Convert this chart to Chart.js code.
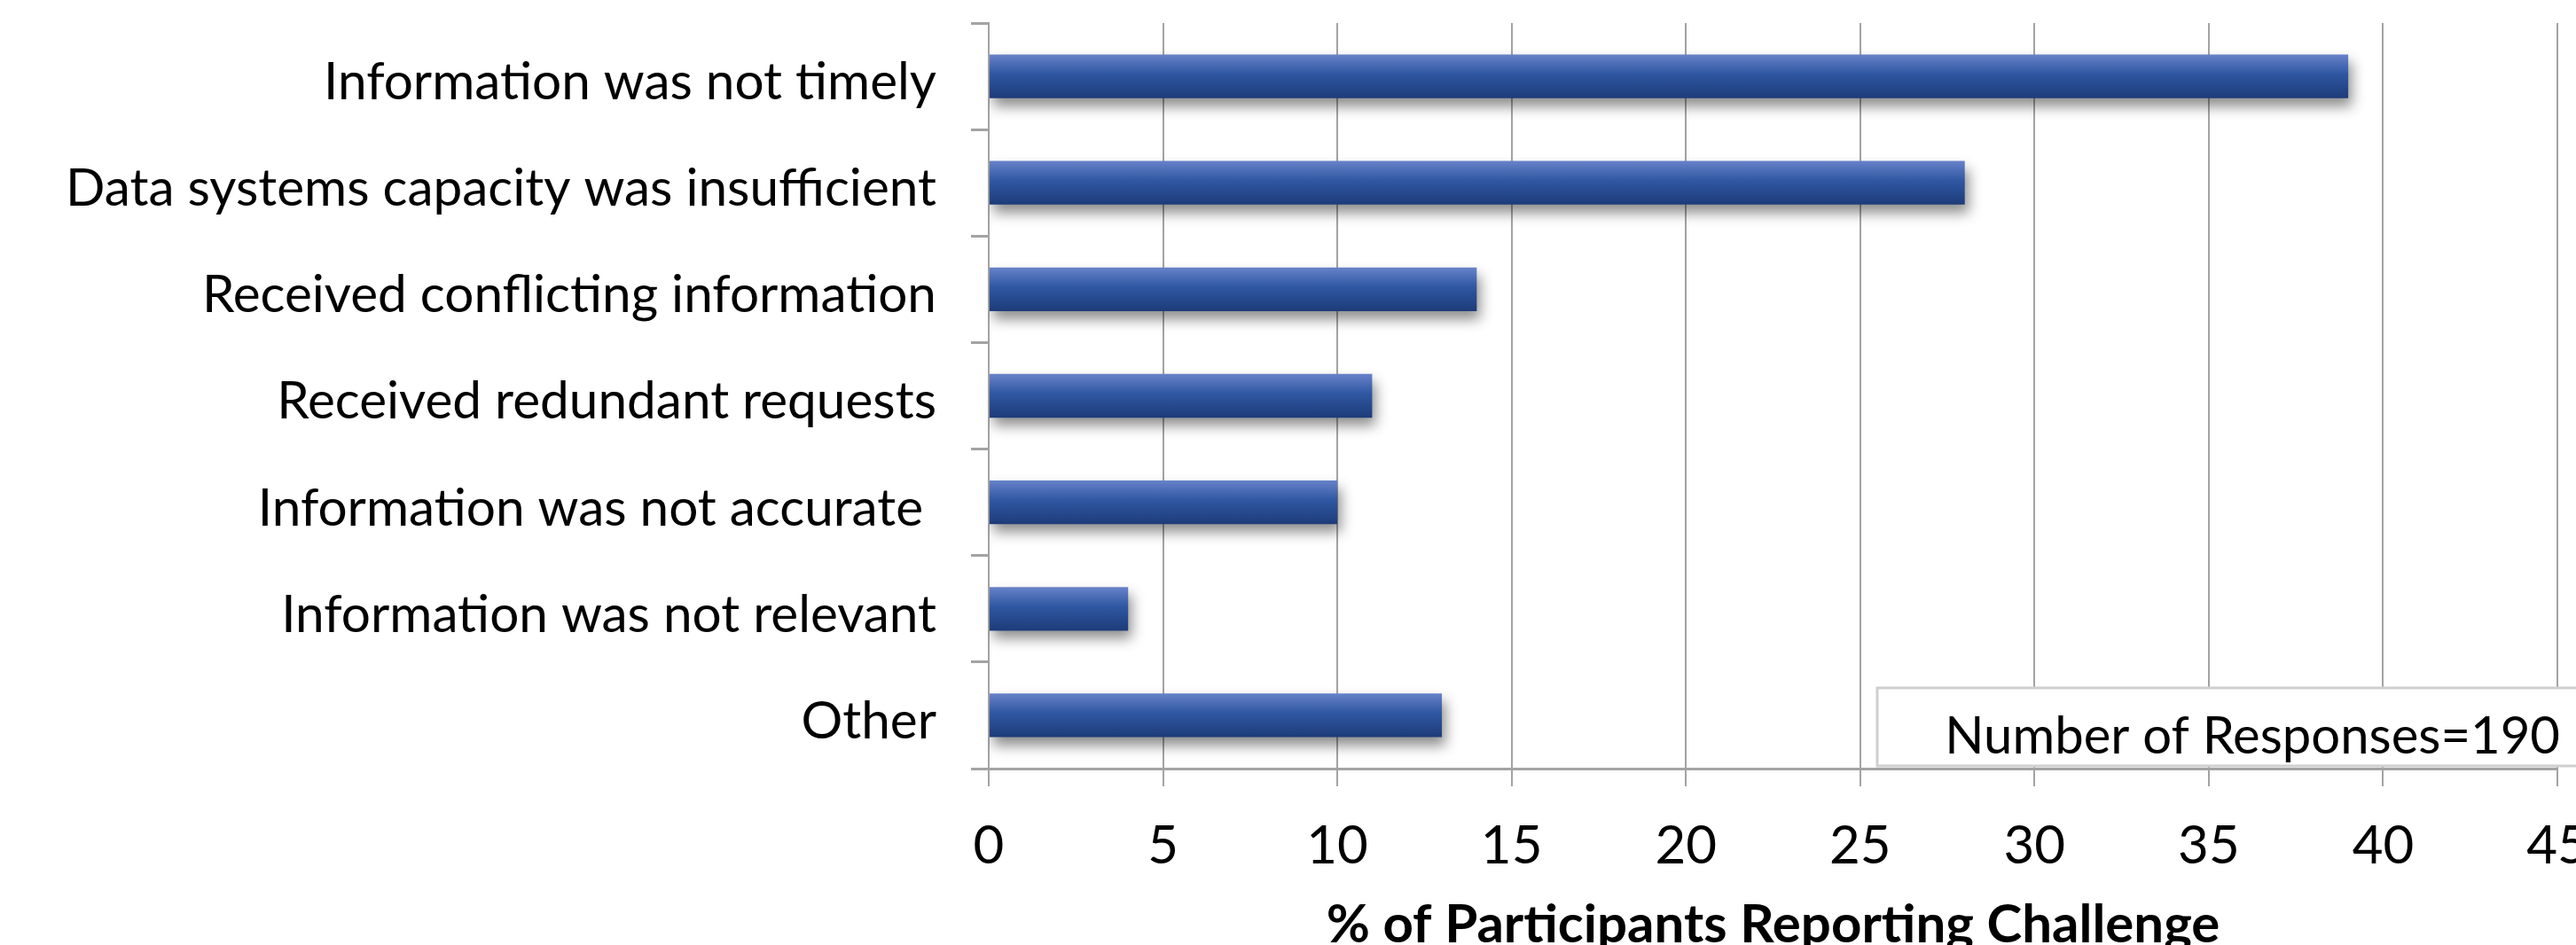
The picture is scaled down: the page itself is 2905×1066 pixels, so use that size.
<!DOCTYPE html>
<html>
<head>
<meta charset="utf-8">
<script src="https://cdn.jsdelivr.net/npm/chart.js@4/dist/chart.umd.min.js"></script>
<style>
  html, body { margin: 0; padding: 0; background: #fff; overflow: hidden; }
  #wrap { width: 2905px; height: 1066px; position: relative; }
</style>
</head>
<body>
<div id="wrap"><canvas id="mainChart"></canvas></div>
<script>
// Dados do grafico
const categorias = [
  'Information was not timely',
  'Data systems capacity was insufficient',
  'Received conflicting information',
  'Received redundant requests',
  'Information was not accurate ',
  'Information was not relevant',
  'Other'
];
const valores = [39, 28, 14, 11, 10, 4, 13];
const xTicks = [0, 5, 10, 15, 20, 25, 30, 35, 40, 45];
const tituloX = '% of Participants Reporting Challenge';
const legenda = 'Number of Responses=190';

const fonte = 'Lato';
const cinza = '#a3a3a3';
const espessura = 0.41; // fracao da categoria ocupada pela barra

// Gradiente azul de cada barra (de cima para baixo)
function corBarra(c) {
  const chart = c.chart;
  const y = chart.scales.y;
  if (!y || c.dataIndex === undefined) return '#2f57a2';
  const yc = y.getPixelForValue(c.dataIndex);
  const h = (y.height / categorias.length) * espessura / 2;
  if (!isFinite(yc) || !isFinite(h) || h <= 0) return '#2f57a2';
  const g = chart.ctx.createLinearGradient(0, yc - h, 0, yc + h);
  g.addColorStop(0, '#6782c9');
  g.addColorStop(0.45, '#2f57a2');
  g.addColorStop(1, '#1d3b79');
  return g;
}

// Sombra embaixo das barras
const sombra = {
  id: 'sombra',
  beforeDatasetsDraw(chart) {
    const ctx = chart.ctx;
    ctx.save();
    ctx.shadowColor = 'rgba(0,0,0,0.45)';
    ctx.shadowBlur = 14;
    ctx.shadowOffsetX = 4;
    ctx.shadowOffsetY = 9;
  },
  afterDatasetsDraw(chart) {
    chart.ctx.restore();
  }
};

// Caixa "Number of Responses" no canto inferior direito
const caixaLegenda = {
  id: 'caixaLegenda',
  afterDraw(chart) {
    const ctx = chart.ctx;
    const a = chart.chartArea;
    const left = a.right - 767, top = a.bottom - 91, bottom = a.bottom - 3;
    ctx.save();
    ctx.fillStyle = '#fff';
    ctx.fillRect(left, top, 820, bottom - top);
    ctx.strokeStyle = '#cfcfcf';
    ctx.lineWidth = 3;
    ctx.strokeRect(left, top, 820, bottom - top);
    ctx.fillStyle = '#000';
    ctx.font = '58px ' + fonte;
    ctx.textAlign = 'right';
    ctx.textBaseline = 'alphabetic';
    ctx.fillText(chart.data.datasets[0].label, a.right + 3, bottom - 14);
    ctx.restore();
  }
};

new Chart(document.getElementById('mainChart'), {
  type: 'bar',
  data: {
    labels: categorias,
    datasets: [{
      label: legenda,
      data: valores,
      backgroundColor: corBarra,
      borderWidth: 0,
      barPercentage: espessura,
      categoryPercentage: 1
    }]
  },
  options: {
    indexAxis: 'y',
    responsive: true,
    maintainAspectRatio: false,
    animation: false,
    layout: { padding: { top: 26, right: 21, left: 0, bottom: 0 } },
    plugins: {
      legend: { display: false },
      tooltip: { enabled: false }
    },
    scales: {
      x: {
        min: xTicks[0],
        max: xTicks[xTicks.length - 1],
        afterBuildTicks: s => { s.ticks = xTicks.map(v => ({ value: v })); },
        afterFit: s => { s.height = 199; s.paddingLeft = 0; s.paddingRight = 0; },
        grid: { color: cinza, lineWidth: 2, tickLength: 20 },
        border: { color: cinza, width: 3 },
        ticks: { color: '#000', padding: 32, font: { family: fonte, size: 60 } },
        title: {
          display: true,
          text: tituloX,
          color: '#000',
          padding: { top: 0, bottom: -14 },
          font: { family: fonte, size: 60, weight: 'bold' }
        }
      },
      y: {
        afterFit: s => { s.width = 1115; s.paddingTop = 0; s.paddingBottom = 0; },
        grid: { drawOnChartArea: false, offset: true, color: cinza, lineWidth: 3, tickLength: 20 },
        border: { color: cinza, width: 2 },
        ticks: { color: '#000', padding: 39, labelOffset: 7, font: { family: fonte, size: 58.5 } }
      }
    }
  },
  plugins: [sombra, caixaLegenda]
});
</script>
</body>
</html>
